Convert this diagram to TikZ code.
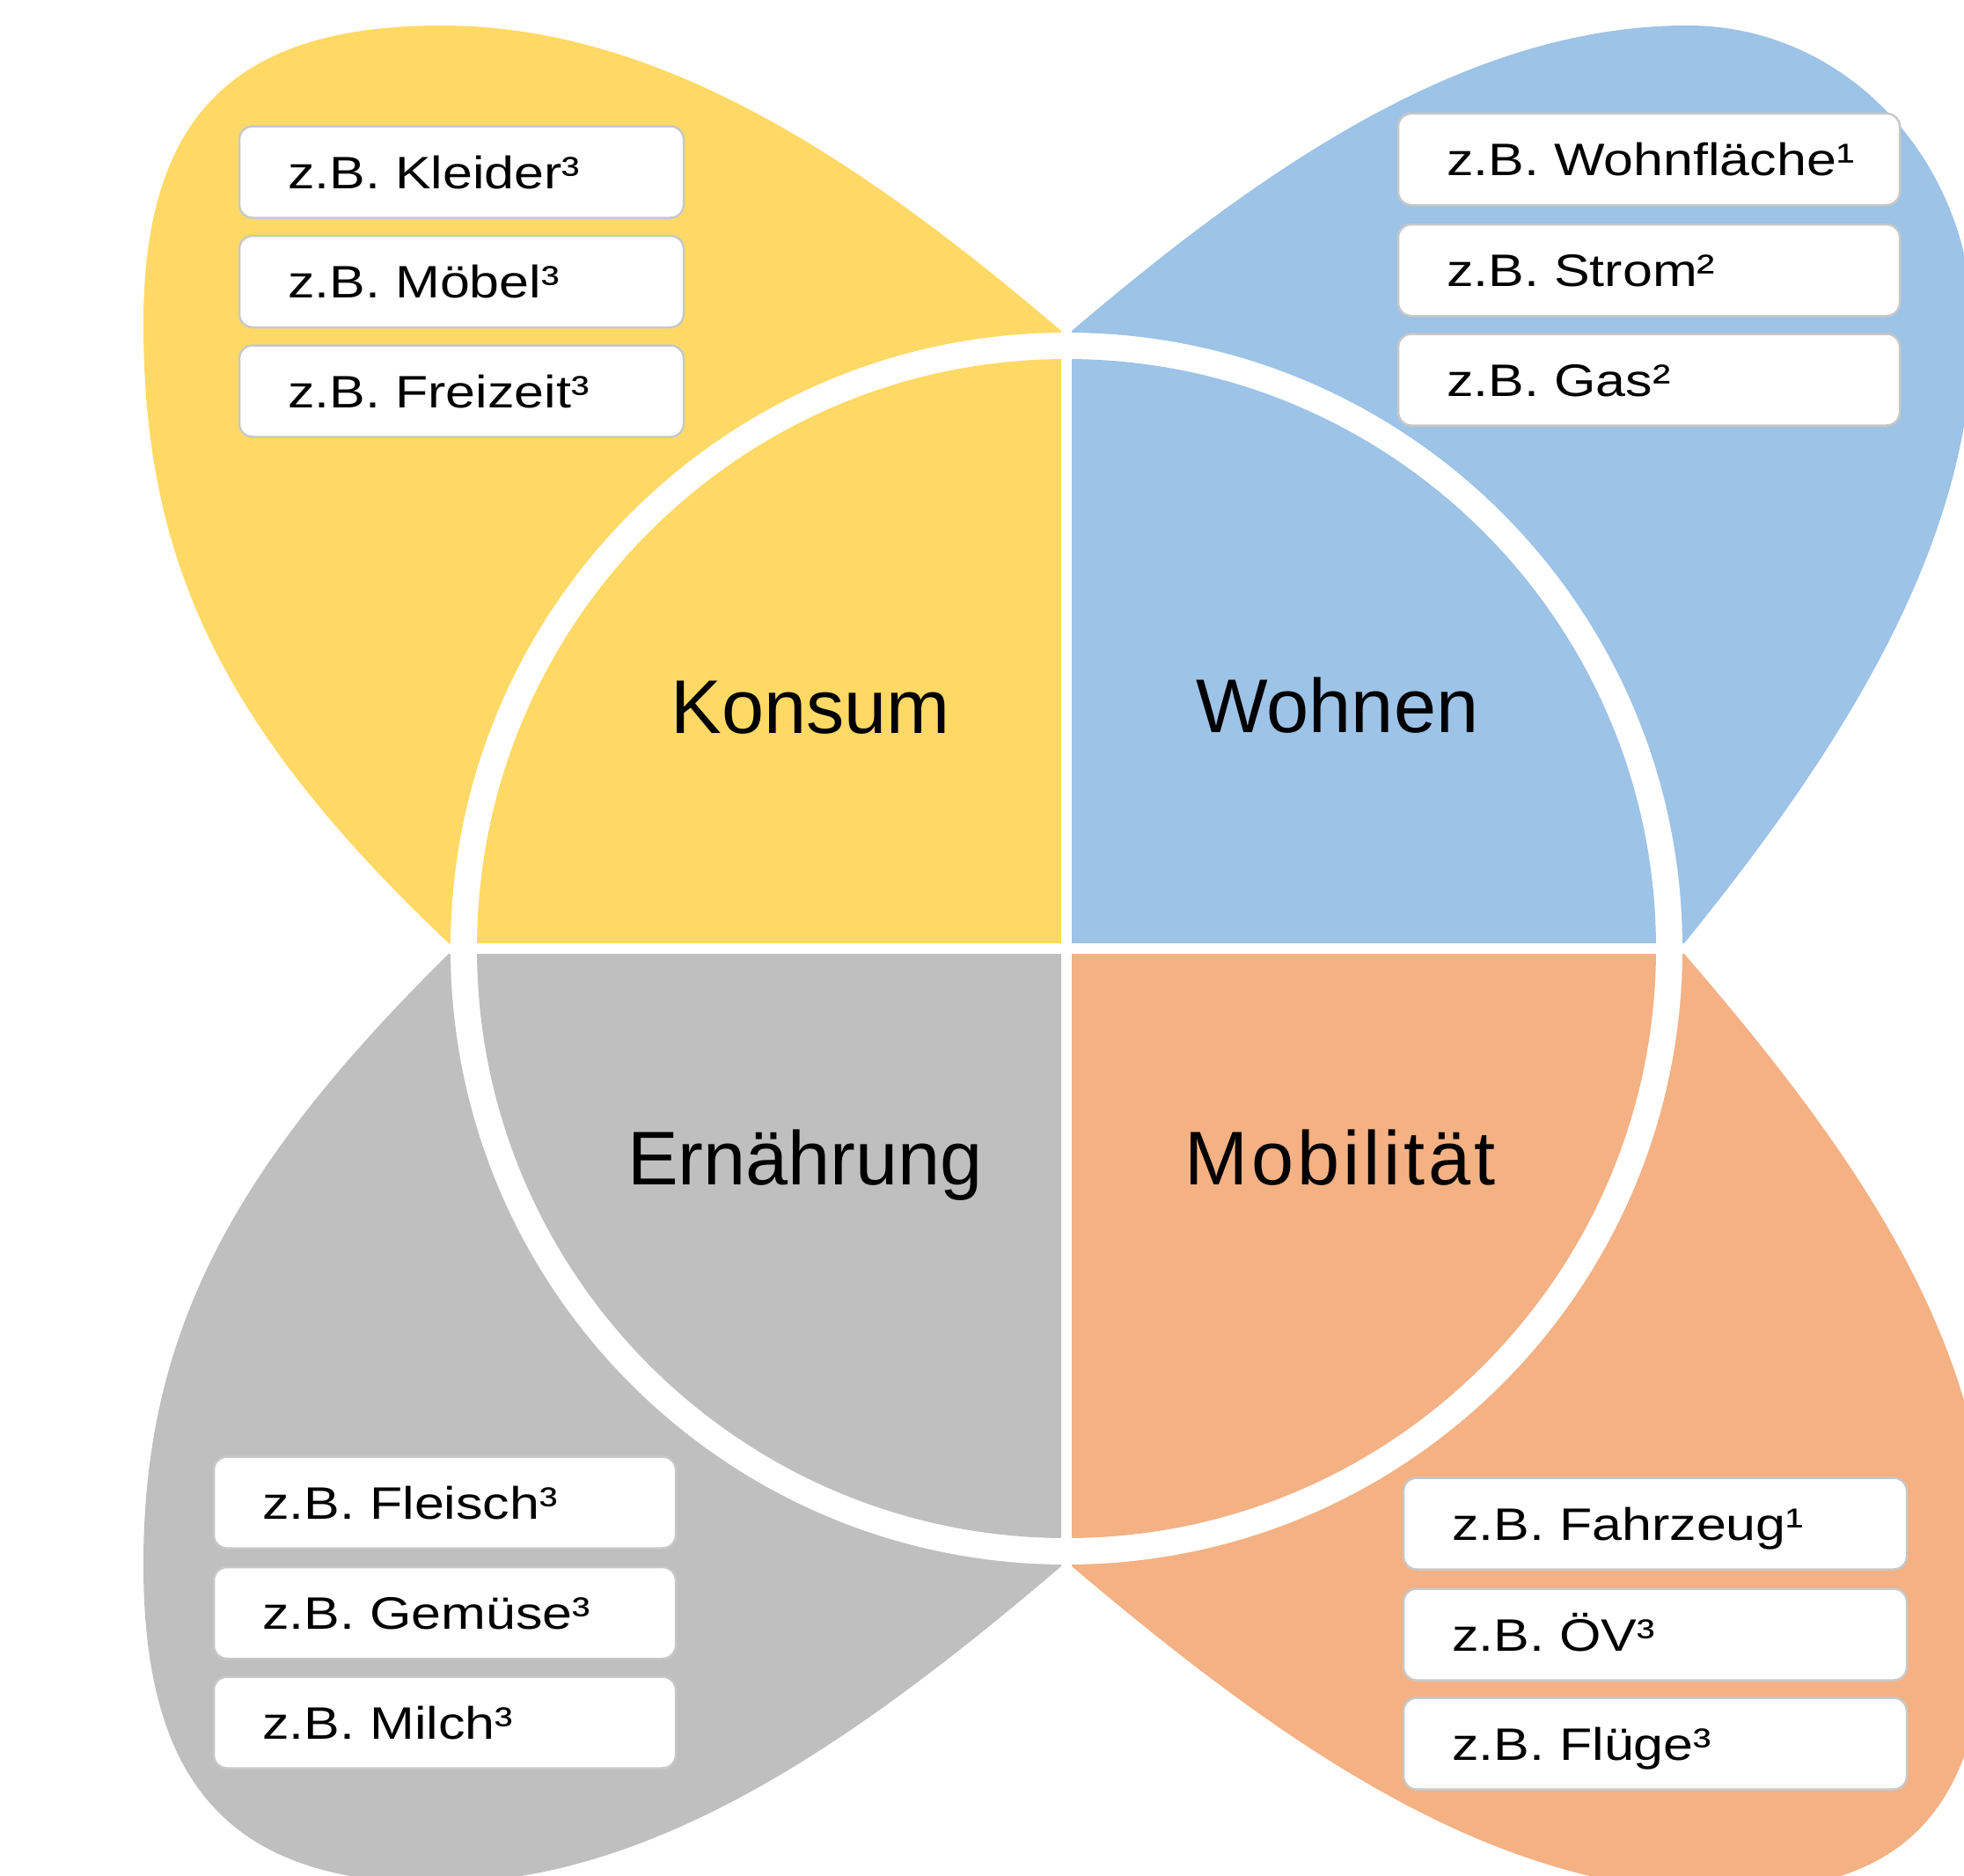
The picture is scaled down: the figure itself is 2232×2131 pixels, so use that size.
\documentclass[tikz,border=0pt]{standalone}
\usepackage{fontspec}
\setmainfont{Liberation Sans}
\newfontfamily\boxfont[FakeStretch=1.18]{Liberation Sans}
\definecolor{konsumc}{HTML}{FFD966}
\definecolor{wohnenc}{HTML}{9DC3E6}
\definecolor{ernc}{HTML}{BFBFBF}
\definecolor{mobc}{HTML}{F4B183}
\definecolor{boxline}{HTML}{C8C8C8}
\tikzset{
  itembox/.style={draw=boxline, line width=0.25mm, fill=white, rounded corners=1.5mm,
    text width=#1, align=left, inner xsep=5.5mm, inner ysep=0pt,
    minimum height=10.4mm, text height=3.7mm, text depth=0pt,
    font=\boxfont\fontsize{14.7pt}{17pt}\selectfont},
  catlabel/.style={font=\fontsize{24.6pt}{28pt}\selectfont, anchor=base, inner sep=0pt}
}
\begin{document}
\begin{tikzpicture}[x=0.1mm,y=-0.1mm]
\useasboundingbox (0,0) rectangle (2232,2131);
\clip (0,0) rectangle (2232,2131);
% petals (relative to the centre, y pointing away from the centre vertically)
\begin{scope}[shift={(1212,1078)}, yscale=-1]
  \fill[konsumc] (-6,702) .. controls (-230,893) and (-460,1049) .. (-710,1049)
    .. controls (-946,1049) and (-1049,946) .. (-1049,710)
    .. controls (-1049,440) and (-960,250) .. (-702,6) -- (0,0) -- cycle;
\end{scope}
\begin{scope}[shift={(1212,1078)}, xscale=-1, yscale=-1]
  \fill[wohnenc] (-6,702) .. controls (-230,893) and (-460,1049) .. (-706,1049)
    .. controls (-890,1049) and (-1030,890) .. (-1030,705)
    .. controls (-1030,460) and (-880,225) .. (-702,6) -- (0,0) -- cycle;
\end{scope}
\begin{scope}[shift={(1212,1078)}]
  \fill[ernc] (-6,702) .. controls (-230,893) and (-465,1062) .. (-715,1062)
    .. controls (-950,1062) and (-1049,950) .. (-1049,700)
    .. controls (-1049,440) and (-950,250) .. (-702,6) -- (0,0) -- cycle;
\end{scope}
\begin{scope}[shift={(1212,1078)}, xscale=-1]
  \fill[mobc] (-6,702) .. controls (-240,900) and (-480,1072) .. (-745,1072)
    .. controls (-975,1072) and (-1049,960) .. (-1049,710)
    .. controls (-1049,450) and (-900,235) .. (-702,6) -- (0,0) -- cycle;
\end{scope}
% white ring
\fill[white] (1212,1078) circle[radius=70mm];
% quarter sectors
\begin{scope}
  \clip (0,0) rectangle (1212,1078);
  \fill[konsumc] (1212,1078) circle[radius=67mm];
\end{scope}
\begin{scope}
  \clip (1212,0) rectangle (2232,1078);
  \fill[wohnenc] (1212,1078) circle[radius=67mm];
\end{scope}
\begin{scope}
  \clip (0,1078) rectangle (1212,2131);
  \fill[ernc] (1212,1078) circle[radius=67mm];
\end{scope}
\begin{scope}
  \clip (1212,1078) rectangle (2232,2131);
  \fill[mobc] (1212,1078) circle[radius=67mm];
\end{scope}
\fill[white] (1206,380) rectangle (1218,1776);
\fill[white] (514,1072) rectangle (1910,1084);
% category labels
\node[catlabel] (konsum) at (921,833) {Konsum};
\node[catlabel] (wohnen) at (1520,832) {Wohnen};
\node[catlabel] (ernaehrung) at (915,1346) {Ernährung};
\node[catlabel] (mobilitaet) at (1523,1346) {\addfontfeatures{LetterSpace=4.5}Mobilität};
% example boxes
\node[itembox=39.5mm] (k1) at (524.5,195.5) {\mbox{z.B. Kleider³}};
\node[itembox=39.5mm] (k2) at (524.5,320) {\mbox{z.B. Möbel³}};
\node[itembox=39.5mm] (k3) at (524.5,444.5) {\mbox{z.B. Freizeit³}};
\node[itembox=46mm] (w1) at (1874,181) {\mbox{z.B. Wohnfläche¹}};
\node[itembox=46mm] (w2) at (1874,307) {\mbox{z.B. Strom²}};
\node[itembox=46mm] (w3) at (1874,431.5) {\mbox{z.B. Gas²}};
\node[itembox=41.5mm] (e1) at (505.5,1707.5) {\mbox{z.B. Fleisch³}};
\node[itembox=41.5mm] (e2) at (505.5,1833) {\mbox{z.B. Gemüse³}};
\node[itembox=41.5mm] (e3) at (505.5,1957.5) {\mbox{z.B. Milch³}};
\node[itembox=46.2mm] (m1) at (1881,1731.5) {\mbox{z.B. Fahrzeug¹}};
\node[itembox=46.2mm] (m2) at (1881,1857.5) {\mbox{z.B. ÖV³}};
\node[itembox=46.2mm] (m3) at (1881,1981.5) {\mbox{z.B. Flüge³}};
\end{tikzpicture}
\end{document}
